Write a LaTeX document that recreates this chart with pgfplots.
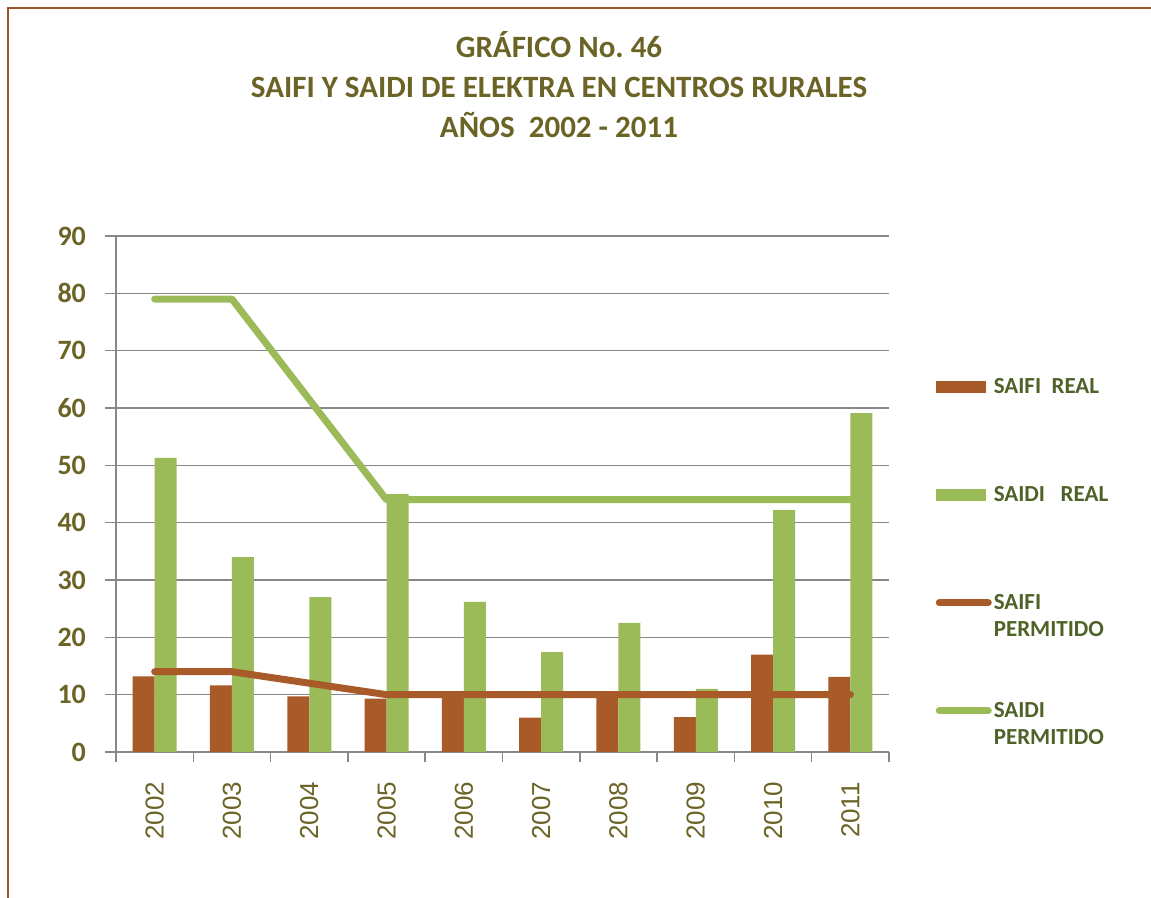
\documentclass[border=0pt]{standalone}
\usepackage{fontspec}
\setmainfont{Carlito}
\newfontfamily\yearfont{Liberation Sans}
\usepackage{pgfplots}
\pgfplotsset{compat=1.18}
\definecolor{saifi}{HTML}{A85A28}
\definecolor{saidi}{HTML}{9BBB59}
\definecolor{titcol}{HTML}{6B6426}
\definecolor{legcol}{HTML}{4F6228}
\definecolor{gridcol}{HTML}{878787}
\definecolor{framecol}{HTML}{A0522D}
\frenchspacing
\begin{document}
\begin{tikzpicture}
\path[use as bounding box] (0,0) rectangle (575.5pt,449pt);
\draw[framecol, line width=1.2pt] (4pt,0pt) -- (4pt,445pt) -- (575.5pt,445pt);
\node[align=center, text=titcol, font=\bfseries\fontsize{15.5}{20}\selectfont] at (279.5pt,406.5pt)
  {GRÁFICO No. 46\\SAIFI Y SAIDI DE ELEKTRA EN CENTROS RURALES\\AÑOS\ \ 2002 - 2011};
\begin{axis}[
  at={(58pt,73pt)}, anchor=south west,
  scale only axis, width=386.5pt, height=258pt,
  xmin=-0.5, xmax=9.5, ymin=0, ymax=90,
  axis x line*=bottom, axis y line*=left,
  axis line style={-, draw=gridcol, line width=0.75pt},
  ytick={0,10,...,90},
  ymajorgrids, grid style={gridcol, line width=0.75pt},
  xtick={0,...,9},
  xticklabels={2002,2003,2004,2005,2006,2007,2008,2009,2010,2011},
  minor xtick={-0.5,0.5,...,9.5},
  tick align=outside,
  major tick length=5.5pt, minor tick length=5pt,
  tick style={gridcol, line width=0.75pt},
  major x tick style={draw=none},
  xticklabel style={rotate=90, anchor=east, font=\yearfont\fontsize{13}{13}\selectfont, text=titcol},
  yticklabel style={font=\bfseries\fontsize{14}{14}\selectfont, text=titcol},
  /pgf/number format/assume math mode=true,
  xticklabel shift=6pt, yticklabel shift=6pt,
  legend cell align=left,
  legend style={draw=none, fill=none, at={(1.06,0.7296)}, anchor=north west, inner sep=0pt,
    row sep=43pt, font=\bfseries\fontsize{11.5}{13.5}\selectfont, text=legcol,
    nodes={inner sep=1pt, text height=8pt, text depth=1pt}},
]
\addplot[ybar, bar width=11pt, bar shift=-5.5pt, fill=saifi, draw=none,
  legend image code/.code={\fill[saifi] (0pt,-3pt) rectangle (25pt,3pt);}]
  coordinates {(0,13.2) (1,11.6) (2,9.7) (3,9.3) (4,10.4) (5,6.0) (6,10.4) (7,6.1) (8,17.0) (9,13.1)};
\addlegendentry{SAIFI\ \ REAL}
\addplot[ybar, bar width=11pt, bar shift=5.5pt, fill=saidi, draw=none,
  legend image code/.code={\fill[saidi] (0pt,-3pt) rectangle (25pt,3pt);}]
  coordinates {(0,51.3) (1,34.0) (2,27.0) (3,45.0) (4,26.2) (5,17.4) (6,22.5) (7,11.0) (8,42.2) (9,59.1)};
\addlegendentry{SAIDI\ \ \ REAL}
\addplot[saifi, line width=3.5pt, line cap=round, line join=round, mark=none,
  legend image code/.code={\draw[saifi, line width=3.5pt, line cap=round] (1.75pt,0pt) -- (26.25pt,0pt);}]
  coordinates {(0,14) (1,14) (2,12) (3,10) (4,10) (5,10) (6,10) (7,10) (8,10) (9,10)};
\addlegendentry{\smash{\begin{tabular}[t]{@{}l@{}}SAIFI\\PERMITIDO\end{tabular}}}
\addplot[saidi, line width=3.5pt, line cap=round, line join=round, mark=none,
  legend image code/.code={\draw[saidi, line width=3.5pt, line cap=round] (1.75pt,0pt) -- (26.25pt,0pt);}]
  coordinates {(0,79) (1,79) (2,61.5) (3,44) (4,44) (5,44) (6,44) (7,44) (8,44) (9,44)};
\addlegendentry{\smash{\begin{tabular}[t]{@{}l@{}}SAIDI\\PERMITIDO\end{tabular}}}
\end{axis}
\end{tikzpicture}
\end{document}
